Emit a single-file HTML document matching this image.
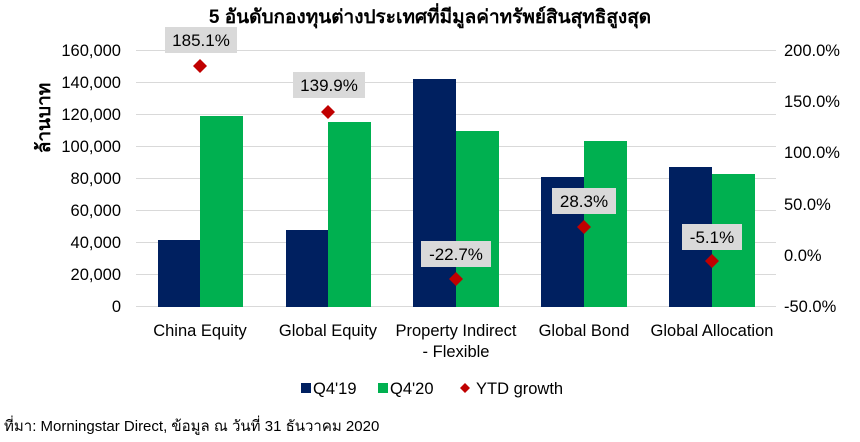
<!DOCTYPE html>
<html><head><meta charset="utf-8"><style>
body{margin:0;background:#fff;}
svg text{font-family:"Liberation Sans","Noto Sans CJK SC",sans-serif;}
</style></head><body>
<svg width="860" height="437" xmlns="http://www.w3.org/2000/svg">
<rect width="860" height="437" fill="#fff"/>
<text x="430" y="23" text-anchor="middle" font-size="19" font-weight="bold" fill="#000">5 อันดับกองทุนต่างประเทศที่มีมูลค่าทรัพย์สินสุทธิสูงสุด</text>
<g stroke="#d9d9d9" stroke-width="1">
<line x1="136" x2="776" y1="50.5" y2="50.5"/>
<line x1="136" x2="776" y1="82.5" y2="82.5"/>
<line x1="136" x2="776" y1="114.5" y2="114.5"/>
<line x1="136" x2="776" y1="146.5" y2="146.5"/>
<line x1="136" x2="776" y1="178.5" y2="178.5"/>
<line x1="136" x2="776" y1="210.5" y2="210.5"/>
<line x1="136" x2="776" y1="242.5" y2="242.5"/>
<line x1="136" x2="776" y1="274.5" y2="274.5"/>
<line x1="136" x2="776" y1="306.5" y2="306.5"/>
</g>
<g font-size="16.5" fill="#000" text-anchor="end">
<text x="121" y="56">160,000</text><text x="121" y="88">140,000</text><text x="121" y="120">120,000</text>
<text x="121" y="152">100,000</text><text x="121" y="184">80,000</text><text x="121" y="216">60,000</text>
<text x="121" y="248">40,000</text><text x="121" y="280">20,000</text><text x="121" y="312">0</text>
</g>
<g font-size="16.5" fill="#000" text-anchor="start">
<text x="784" y="56">200.0%</text><text x="784" y="107">150.0%</text><text x="784" y="158">100.0%</text>
<text x="784" y="210">50.0%</text><text x="784" y="261">0.0%</text><text x="784" y="312">-50.0%</text>
</g>
<text transform="translate(50,118) rotate(-90)" text-anchor="middle" font-size="19" font-weight="bold" fill="#000">ล้านบาท</text>
<g fill="#002060">
<rect x="158" y="240" width="42" height="67"/>
<rect x="286" y="230" width="42" height="77"/>
<rect x="413" y="79" width="43" height="228"/>
<rect x="541" y="177" width="43" height="130"/>
<rect x="669" y="167" width="43" height="140"/>
</g>
<g fill="#00b050">
<rect x="200" y="116" width="43" height="191"/>
<rect x="328" y="122" width="43" height="185"/>
<rect x="456" y="131" width="43" height="176"/>
<rect x="584" y="141" width="43" height="166"/>
<rect x="712" y="174" width="43" height="133"/>
</g>
<g fill="#d9d9d9">
<rect x="165" y="27" width="72" height="26"/>
<rect x="293" y="72" width="72" height="26"/>
<rect x="421" y="241" width="70" height="26"/>
<rect x="552" y="188" width="64" height="26"/>
<rect x="682" y="224" width="60" height="26"/>
</g>
<g font-size="17" fill="#000" text-anchor="middle">
<text x="201" y="46">185.1%</text><text x="329" y="91">139.9%</text>
<text x="456" y="260">-22.7%</text><text x="584" y="207">28.3%</text><text x="712" y="243">-5.1%</text>
</g>
<g fill="#c00000">
<polygon points="200,59 207,66 200,73 193,66"/>
<polygon points="328,105 335,112 328,119 321,112"/>
<polygon points="456,272 463,279 456,286 449,279"/>
<polygon points="584,220 591,227 584,234 577,227"/>
<polygon points="712,254 719,261 712,268 705,261"/>
</g>
<g font-size="16.5" fill="#000" text-anchor="middle">
<text x="200" y="336">China Equity</text><text x="328" y="336">Global Equity</text>
<text x="456" y="336">Property Indirect</text><text x="456" y="357">- Flexible</text>
<text x="584" y="336">Global Bond</text><text x="712" y="336">Global Allocation</text>
</g>
<rect x="301" y="383" width="10" height="10" fill="#002060"/>
<text x="313" y="394" font-size="16.5">Q4'19</text>
<rect x="378" y="383" width="10" height="10" fill="#00b050"/>
<text x="390" y="394" font-size="16.5">Q4'20</text>
<polygon points="465,383 470,388 465,393 460,388" fill="#c00000"/>
<text x="476" y="394" font-size="16.5">YTD growth</text>
<text x="4" y="431" font-size="15" fill="#000">ที่มา: Morningstar Direct, ข้อมูล ณ วันที่ 31 ธันวาคม 2020</text>
</svg>
</body></html>
